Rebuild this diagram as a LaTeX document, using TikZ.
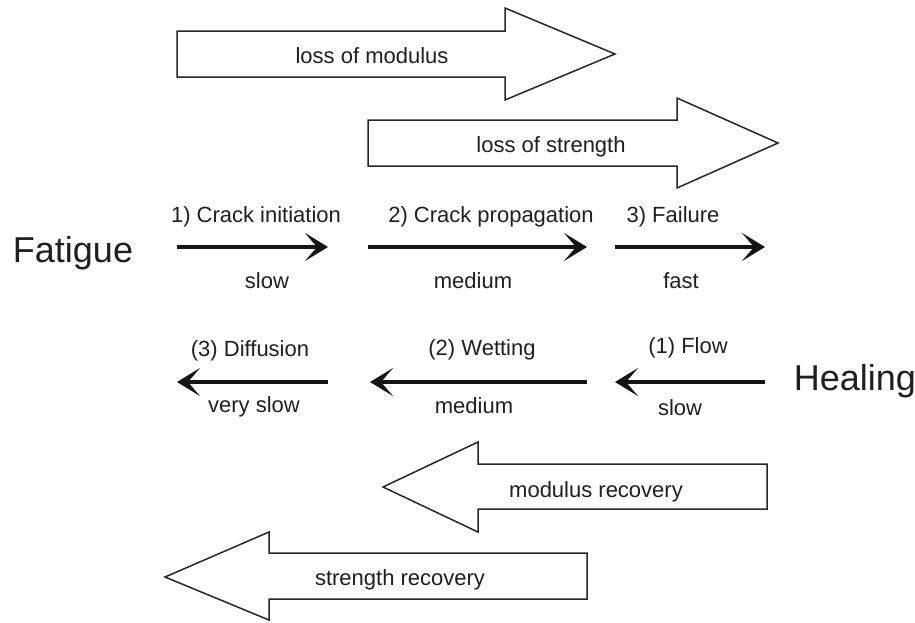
\documentclass[tikz,border=0pt]{standalone}
\usepackage{fontspec}
\setmainfont{Liberation Sans}
\usetikzlibrary{arrows.meta}
\begin{document}
\begin{tikzpicture}[x=1pt,y=-1pt,
  lbl/.style={font=\fontsize{22}{25}\selectfont, inner sep=0pt, anchor=base, text=black!88},
  big/.style={font=\fontsize{36}{40}\selectfont, inner sep=0pt, anchor=base, text=black!88},
  flow/.style={line width=3.8pt, draw=black!92, -{Stealth[length=23pt,width=28pt,inset=12pt]}},
  boxarrow/.style={draw=black!85, line width=1.5pt, fill=white, line join=miter}]
\useasboundingbox (0,0) rectangle (915,622);
% block arrows
\draw[boxarrow] (177,31) -- (505,31) -- (505,8) -- (615,54) -- (505,100) -- (505,77) -- (177,77) -- cycle;
\node[lbl] (lm) at (372,63) {loss of modulus};
\draw[boxarrow] (368,120) -- (677,120) -- (677,98) -- (778,143) -- (677,188) -- (677,166) -- (368,166) -- cycle;
\node[lbl] (ls) at (551,152) {loss of strength};
\draw[boxarrow] (767,464) -- (478,464) -- (478,442) -- (383,487) -- (478,532) -- (478,509) -- (767,509) -- cycle;
\node[lbl] (mr) at (596,497) {modulus recovery};
\draw[boxarrow] (587,553) -- (269,553) -- (269,532) -- (165,577) -- (269,620) -- (269,599) -- (587,599) -- cycle;
\node[lbl] (sr) at (400,585) {strength recovery};
% fatigue row
\node[big] (fat) at (73,262) {Fatigue};
\coordinate (f1a) at (177,247); \coordinate (f1b) at (328,247);
\coordinate (f2a) at (368,247); \coordinate (f2b) at (587,247);
\coordinate (f3a) at (615,247); \coordinate (f3b) at (765,247);
\draw[flow] (f1a) -- (f1b);
\draw[flow] (f2a) -- (f2b);
\draw[flow] (f3a) -- (f3b);
\node[lbl] (t1) at (256,222) {1) Crack initiation};
\node[lbl] (b1) at (267,288) {slow};
\node[lbl] (t2) at (491,222) {2) Crack propagation};
\node[lbl] (b2) at (473,288) {medium};
\node[lbl] (t3) at (673,222) {3) Failure};
\node[lbl] (b3) at (681,288) {fast};
% healing row
\node[big] (heal) at (855,390) {Healing};
\coordinate (h1a) at (765,382); \coordinate (h1b) at (615,382);
\coordinate (h2a) at (587,382); \coordinate (h2b) at (370,382);
\coordinate (h3a) at (328,382); \coordinate (h3b) at (177,382);
\draw[flow] (h1a) -- (h1b);
\draw[flow] (h2a) -- (h2b);
\draw[flow] (h3a) -- (h3b);
\node[lbl] (u1) at (688,353) {(1) Flow};
\node[lbl] (d1) at (680,415) {slow};
\node[lbl] (u2) at (482,355) {(2) Wetting};
\node[lbl] (d2) at (474,413) {medium};
\node[lbl] (u3) at (250,356) {(3) Diffusion};
\node[lbl] (d3) at (254,412) {very slow};
\end{tikzpicture}
\end{document}
